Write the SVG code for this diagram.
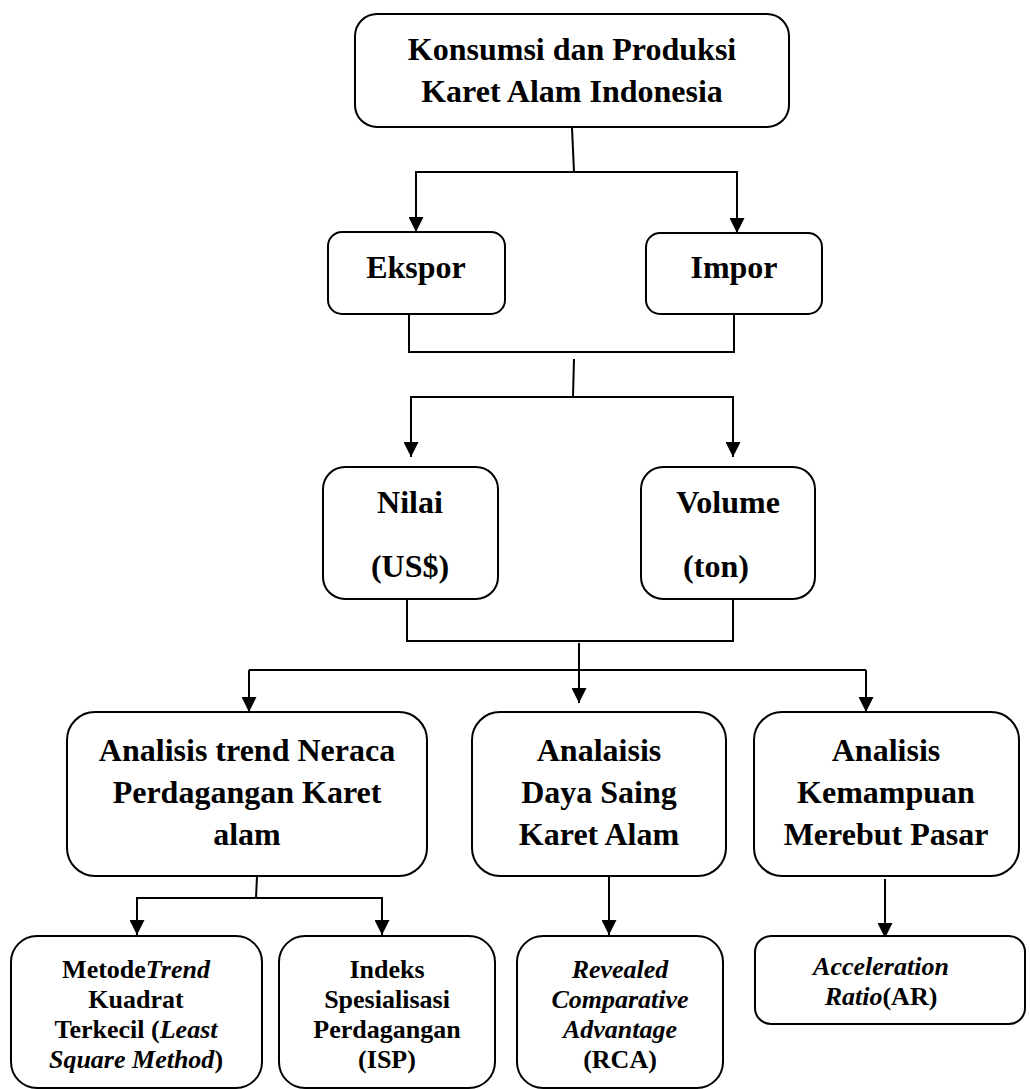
<svg xmlns="http://www.w3.org/2000/svg" width="1030" height="1089" viewBox="0 0 1030 1089">
<style>
.box{fill:#fff;stroke:#000;stroke-width:2}
.ln{fill:none;stroke:#000;stroke-width:2}
.ar{fill:none;stroke:#000;stroke-width:2;marker-end:url(#ah)}
.t{font-weight:bold;font-size:32px;text-anchor:middle;fill:#000}
.s{font-size:26px}
.i{font-style:italic}
</style>
<defs>
<marker id="ah" viewBox="0 0 10 10" refX="10" refY="5" markerWidth="15" markerHeight="15" markerUnits="userSpaceOnUse" orient="auto">
<path d="M0,0 L10,5 L0,10 z" fill="#000"/>
</marker>
</defs>
<rect width="1030" height="1089" fill="#fff"/>
<g id="connectors">
<path class="ln" d="M572,128 L574,172"/>
<path class="ar" d="M574,172 H416 V232"/>
<path class="ar" d="M574,172 H737 V233"/>
<path class="ln" d="M409,315 V352 H734 V314"/>
<path class="ln" d="M574,359 L573,397"/>
<path class="ar" d="M573,397 H411 V457"/>
<path class="ar" d="M573,397 H733 V457"/>
<path class="ln" d="M407,600 V641 H733 V599"/>
<path class="ln" d="M249,670 H866"/>
<path class="ar" d="M579,643 V703"/>
<path class="ar" d="M249,670 V712"/>
<path class="ar" d="M866,670 V712"/>
<path class="ln" d="M257,876 L256,898"/>
<path class="ar" d="M256,898 H137 V935"/>
<path class="ar" d="M256,898 H382 V935"/>
<path class="ar" d="M609,876 V935"/>
<path class="ar" d="M885,879 V938"/>
</g>
<g font-family="Liberation Serif, Times New Roman, Times, serif">
<g id="n-top">
<rect class="box" x="355" y="14" width="434" height="113" rx="22"/>
<text class="t" x="572" y="60">Konsumsi dan Produksi</text>
<text class="t" x="572" y="102">Karet Alam Indonesia</text>
</g>
<g id="n-ekspor">
<rect class="box" x="328" y="232" width="177" height="82" rx="14"/>
<text class="t" x="416" y="278">Ekspor</text>
</g>
<g id="n-impor">
<rect class="box" x="646" y="233" width="176" height="81" rx="14"/>
<text class="t" x="734" y="278">Impor</text>
</g>
<g id="n-nilai">
<rect class="box" x="323" y="467" width="175" height="132" rx="22"/>
<text class="t" x="410" y="513">Nilai</text>
<text class="t" x="410" y="577">(US$)</text>
</g>
<g id="n-volume">
<rect class="box" x="641" y="467" width="174" height="132" rx="22"/>
<text class="t" x="728" y="513">Volume</text>
<text class="t" x="716" y="577">(ton)</text>
</g>
<g id="n-trend">
<rect class="box" x="67" y="712" width="360" height="164" rx="28"/>
<text class="t" x="247" y="761">Analisis trend Neraca</text>
<text class="t" x="247" y="803">Perdagangan Karet</text>
<text class="t" x="247" y="845">alam</text>
</g>
<g id="n-dayasaing">
<rect class="box" x="472" y="712" width="254" height="164" rx="28"/>
<text class="t" x="599" y="761">Analaisis</text>
<text class="t" x="599" y="803">Daya Saing</text>
<text class="t" x="599" y="845">Karet Alam</text>
</g>
<g id="n-pasar">
<rect class="box" x="754" y="712" width="265" height="164" rx="28"/>
<text class="t" x="886" y="761">Analisis</text>
<text class="t" x="886" y="803">Kemampuan</text>
<text class="t" x="886" y="845">Merebut Pasar</text>
</g>
<g id="n-metode">
<rect class="box" x="11" y="936" width="251" height="152" rx="26"/>
<text class="t s" x="136" y="978">Metode<tspan class="i">Trend</tspan></text>
<text class="t s" x="136" y="1008">Kuadrat</text>
<text class="t s" x="136" y="1038">Terkecil (<tspan class="i">Least</tspan></text>
<text class="t s" x="136" y="1068"><tspan class="i">Square Method</tspan>)</text>
</g>
<g id="n-isp">
<rect class="box" x="279" y="936" width="216" height="152" rx="26"/>
<text class="t s" x="387" y="978">Indeks</text>
<text class="t s" x="387" y="1008">Spesialisasi</text>
<text class="t s" x="387" y="1038">Perdagangan</text>
<text class="t s" x="387" y="1068">(ISP)</text>
</g>
<g id="n-rca">
<rect class="box" x="517" y="936" width="206" height="152" rx="26"/>
<text class="t s i" x="620" y="978">Revealed</text>
<text class="t s i" x="620" y="1008">Comparative</text>
<text class="t s i" x="620" y="1038">Advantage</text>
<text class="t s" x="620" y="1068">(RCA)</text>
</g>
<g id="n-ar">
<rect class="box" x="755" y="936" width="270" height="88" rx="16"/>
<text class="t s" x="881" y="975"><tspan class="i">Acceleration</tspan></text>
<text class="t s" x="881" y="1005"><tspan class="i">Ratio</tspan>(AR)</text>
</g>
</g>
</svg>
